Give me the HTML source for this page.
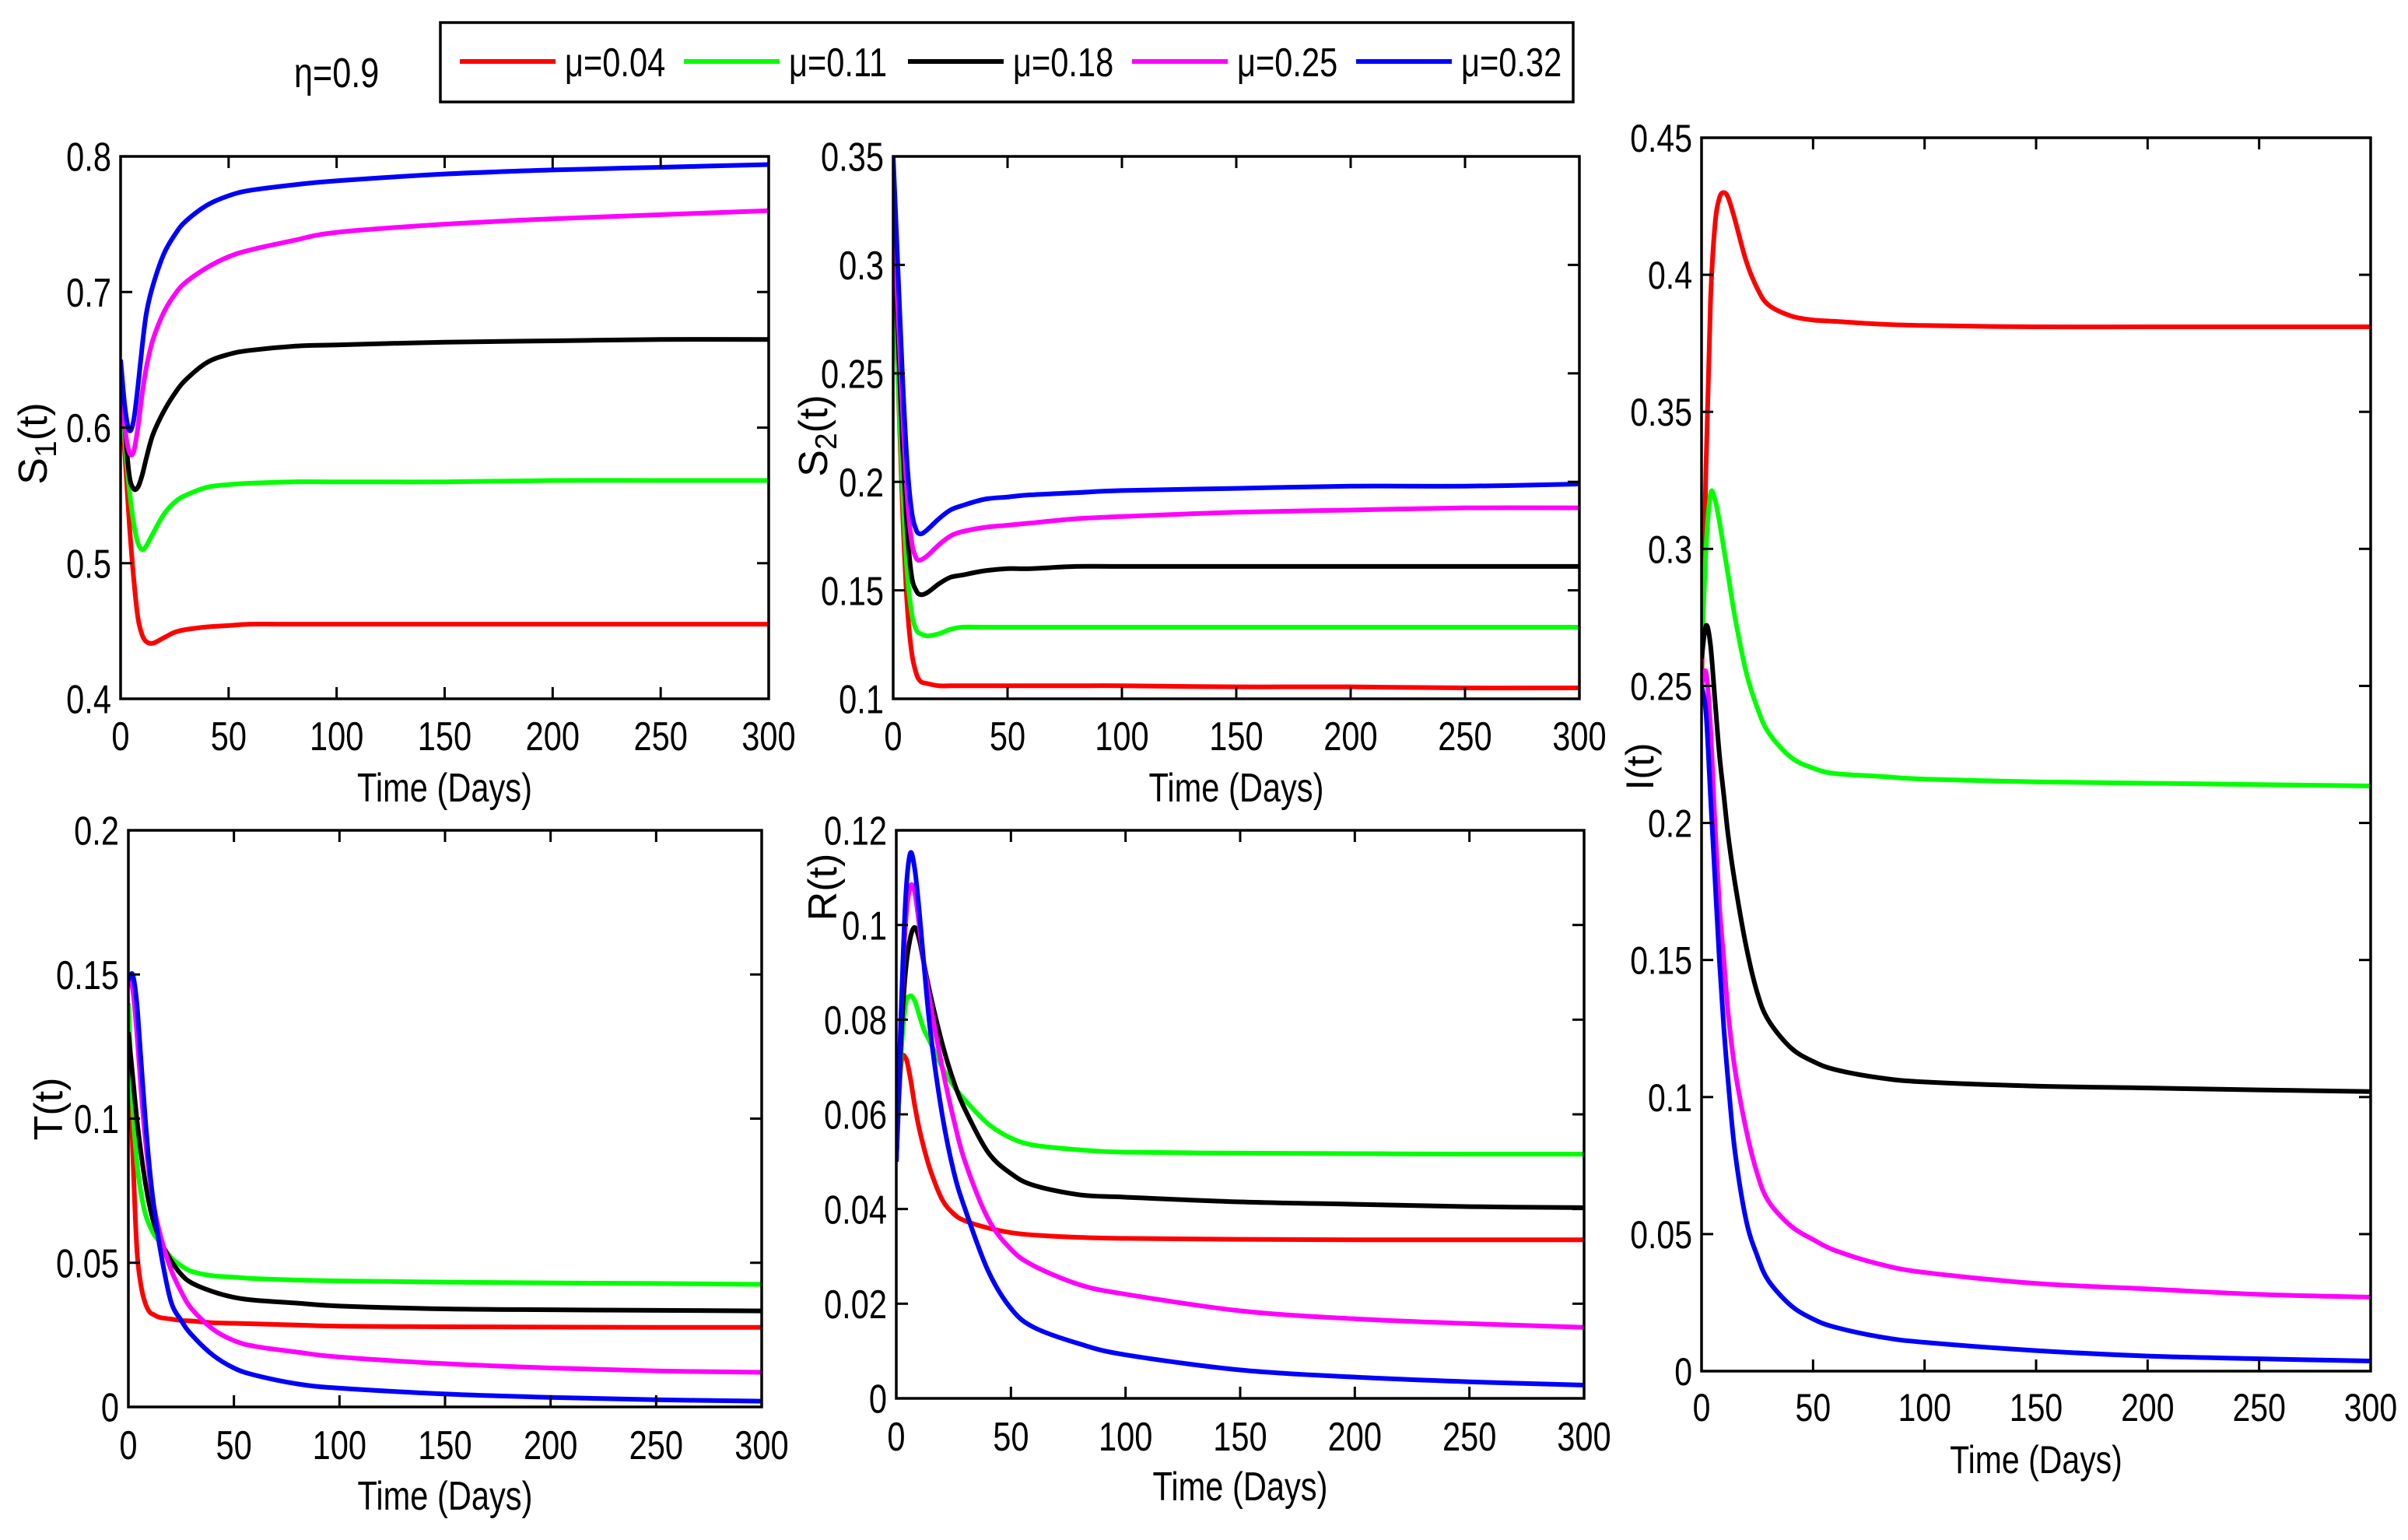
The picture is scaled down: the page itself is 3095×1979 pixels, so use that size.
<!DOCTYPE html>
<html><head><meta charset="utf-8"><style>
html,body{margin:0;padding:0;background:#fff}
svg{display:block}
</style></head><body>
<svg id="fig" width="3095" height="1979" viewBox="0 0 3095 1979" xmlns="http://www.w3.org/2000/svg">
<rect x="0" y="0" width="3095" height="1979" fill="#fff"/>
<g id="root"></g>
</svg>
<script>
const times = [0,2,4,6,8,10,12,15,20,25,30,40,50,60,80,100,150,200,250,300];
const seriesLabels = ["μ=0.04","μ=0.11","μ=0.18","μ=0.25","μ=0.32"];
const seriesColors = ["#ff0000","#00ff00","#000000","#ff00ff","#0000ff"];

const s1Red =   [0.62,0.58,0.53,0.49,0.46,0.447,0.442,0.441,0.445,0.449,0.451,0.453,0.454,0.455,0.455,0.455,0.455,0.455,0.455,0.455];
const s1Green = [0.63,0.59,0.555,0.53,0.515,0.51,0.513,0.522,0.536,0.545,0.55,0.556,0.558,0.559,0.56,0.56,0.56,0.561,0.561,0.561];
const s1Black = [0.64,0.6,0.565,0.555,0.556,0.565,0.578,0.595,0.612,0.625,0.635,0.648,0.654,0.657,0.66,0.661,0.663,0.664,0.665,0.665];
const s1Mag =   [0.64,0.6,0.582,0.582,0.6,0.625,0.645,0.665,0.685,0.698,0.707,0.718,0.726,0.731,0.738,0.744,0.75,0.754,0.757,0.76];
const s1Blue =  [0.65,0.615,0.598,0.605,0.63,0.66,0.685,0.705,0.728,0.742,0.752,0.764,0.771,0.775,0.779,0.782,0.787,0.79,0.792,0.794];

const s2Red =   [0.32,0.25,0.19,0.145,0.122,0.112,0.108,0.107,0.106,0.106,0.106,0.106,0.106,0.106,0.106,0.106,0.1055,0.1055,0.105,0.105];
const s2Green = [0.3,0.25,0.2,0.16,0.14,0.132,0.13,0.129,0.13,0.132,0.133,0.133,0.133,0.133,0.133,0.133,0.133,0.133,0.133,0.133];
const s2Black = [0.32,0.27,0.22,0.18,0.157,0.15,0.148,0.149,0.153,0.156,0.157,0.159,0.16,0.16,0.161,0.161,0.161,0.161,0.161,0.161];
const s2Mag =   [0.33,0.28,0.235,0.195,0.173,0.165,0.164,0.166,0.171,0.175,0.177,0.179,0.18,0.181,0.183,0.184,0.186,0.187,0.188,0.188];
const s2Blue =  [0.35,0.3,0.25,0.21,0.187,0.178,0.176,0.178,0.183,0.187,0.189,0.192,0.193,0.194,0.195,0.196,0.197,0.198,0.198,0.199];

const tRed =   [0.135,0.09,0.055,0.042,0.036,0.033,0.032,0.031,0.0305,0.03,0.0298,0.0292,0.029,0.0288,0.0284,0.028,0.0278,0.0277,0.0276,0.0276];
const tGreen = [0.14,0.105,0.085,0.074,0.067,0.063,0.06,0.057,0.052,0.049,0.047,0.0455,0.045,0.0445,0.044,0.0437,0.0433,0.043,0.0428,0.0425];
const tBlack = [0.13,0.115,0.1,0.088,0.078,0.07,0.064,0.058,0.051,0.046,0.043,0.04,0.038,0.037,0.036,0.035,0.034,0.0337,0.0335,0.0333];
const tMag =   [0.148,0.145,0.13,0.11,0.093,0.08,0.07,0.06,0.048,0.04,0.034,0.027,0.023,0.021,0.019,0.0173,0.015,0.0135,0.0125,0.012];
const tBlue =  [0.148,0.15,0.14,0.12,0.1,0.083,0.07,0.055,0.037,0.03,0.025,0.018,0.0135,0.011,0.008,0.0065,0.0045,0.0033,0.0025,0.002];

const rRed =   [0.05,0.07,0.072,0.068,0.062,0.057,0.053,0.048,0.042,0.039,0.0375,0.036,0.035,0.0345,0.034,0.0338,0.0336,0.0335,0.0335,0.0335];
const rGreen = [0.05,0.072,0.083,0.085,0.084,0.081,0.078,0.075,0.07,0.066,0.063,0.058,0.055,0.0535,0.0525,0.052,0.0518,0.0517,0.0516,0.0516];
const rBlack = [0.05,0.075,0.09,0.097,0.0995,0.097,0.092,0.085,0.075,0.067,0.061,0.052,0.0475,0.045,0.043,0.0425,0.0415,0.041,0.0405,0.0403];
const rMag =   [0.05,0.08,0.1,0.108,0.107,0.1,0.092,0.083,0.07,0.059,0.05,0.038,0.0315,0.028,0.024,0.022,0.0185,0.0168,0.0158,0.015];
const rBlue =  [0.05,0.08,0.105,0.115,0.112,0.103,0.092,0.077,0.06,0.048,0.04,0.027,0.019,0.015,0.0115,0.0092,0.006,0.0045,0.0035,0.0028];

const iRed =   [0.25,0.33,0.39,0.418,0.428,0.43,0.428,0.42,0.405,0.395,0.389,0.385,0.3835,0.383,0.382,0.3815,0.381,0.381,0.381,0.381];
const iGreen = [0.26,0.3,0.32,0.318,0.31,0.3,0.29,0.275,0.255,0.242,0.233,0.224,0.22,0.218,0.217,0.216,0.215,0.2145,0.214,0.2135];
const iBlack = [0.26,0.272,0.265,0.245,0.225,0.21,0.195,0.178,0.155,0.138,0.128,0.118,0.113,0.11,0.107,0.1055,0.104,0.1033,0.1026,0.102];
const iMag =   [0.25,0.255,0.235,0.2,0.17,0.15,0.13,0.11,0.088,0.072,0.062,0.053,0.048,0.044,0.039,0.036,0.032,0.03,0.028,0.027];
const iBlue =  [0.25,0.24,0.21,0.18,0.15,0.125,0.105,0.08,0.055,0.042,0.033,0.024,0.019,0.016,0.0125,0.0105,0.0075,0.0055,0.0045,0.0037];

const xTicks = [0,50,100,150,200,250,300];
const s1Ticks = [0.4,0.5,0.6,0.7,0.8];
const s2Ticks = [0.1,0.15,0.2,0.25,0.3,0.35];
const tTicks = [0,0.05,0.1,0.15,0.2];
const rTicks = [0,0.02,0.04,0.06,0.08,0.1,0.12];
const iTicks = [0,0.05,0.1,0.15,0.2,0.25,0.3,0.35,0.4,0.45];

const NS = "http://www.w3.org/2000/svg";
const root = document.getElementById('root');
function mk(tag, attrs, parent){
  const e = document.createElementNS(NS, tag);
  for (const k in attrs) e.setAttribute(k, attrs[k]);
  (parent||root).appendChild(e);
  return e;
}
function txt(parent, x, y, s, size, anchor, sx, rot){
  const g = mk('g', {transform: `translate(${x},${y})` + (rot?` rotate(${rot})`:'') + ` scale(${sx},1)`}, parent);
  const t = mk('text', {x:0, y:0, 'font-family':'"Liberation Sans", sans-serif', 'font-size':size, 'text-anchor':anchor, fill:'#000'}, g);
  t.textContent = s;
  return t;
}
function fmt(v){ return String(+v.toFixed(3)); }

function panel(cfg){
  const {name, L, R, T, B, ymin, ymax, yTicks, series, sx, fs, ylab, ylabX, ylabY, tickLabY, titleY} = cfg;
  const g = mk('g', {});
  
  
  const xs = v => L + (v - 0) / 300 * (R - L);
  const ys = v => B - (v - ymin) / (ymax - ymin) * (B - T);
  const clip = mk('clipPath', {id: 'clip-' + name}, g);
  mk('rect', {x: L, y: T - 4, width: R - L, height: B - T + 8}, clip);
  const sg = mk('g', {'clip-path': `url(#clip-${name})`}, g);
  series.forEach((vals, si) => {
    const pts = times.map((t, i) => [xs(t), ys(vals[i])]);
    let d = `M${pts[0][0]},${pts[0][1]}`;
    for (let i = 0; i < pts.length - 1; i++) {
      const p0 = pts[Math.max(0, i-1)], p1 = pts[i], p2 = pts[i+1], p3 = pts[Math.min(pts.length-1, i+2)];
      const c1x = p1[0] + (p2[0]-p0[0])/6, c1y = p1[1] + (p2[1]-p0[1])/6;
      const c2x = p2[0] - (p3[0]-p1[0])/6, c2y = p2[1] - (p3[1]-p1[1])/6;
      d += ` C${c1x},${c1y} ${c2x},${c2y} ${p2[0]},${p2[1]}`;
    }
    const p = mk('path', {d, fill:'none', stroke: seriesColors[si], 'stroke-width': 6, 'stroke-linejoin':'round'}, sg);
    
    
  });
  const box = mk('rect', {x:L, y:T, width:R-L, height:B-T, fill:'none', stroke:'#000', 'stroke-width':3.5}, g);
  
  
  const tl = 15;
  xTicks.forEach(v => {
    const x = xs(v);
    mk('line', {x1:x, y1:B, x2:x, y2:B-tl, stroke:'#000', 'stroke-width':3}, g);
    mk('line', {x1:x, y1:T, x2:x, y2:T+tl, stroke:'#000', 'stroke-width':3}, g);
    const t = txt(g, x, tickLabY, String(v), fs, 'middle', sx);
    
    
  });
  yTicks.forEach(v => {
    const y = ys(v);
    mk('line', {x1:L, y1:y, x2:L+tl, y2:y, stroke:'#000', 'stroke-width':3}, g);
    mk('line', {x1:R, y1:y, x2:R-tl, y2:y, stroke:'#000', 'stroke-width':3}, g);
    const t = txt(g, L - 12, y + fs*0.36, fmt(v), fs, 'end', sx);
    
    
  });
  const xt = txt(g, (L+R)/2, titleY, 'Time (Days)', fs, 'middle', sx);
  
  
  const yg = mk('g', {transform:`translate(${ylabX},${ylabY}) rotate(-90)`}, g);
  
  
  const yt = mk('text', {x:0, y:0, 'font-family':'"Liberation Sans", sans-serif', 'font-size':fs, 'text-anchor':'middle', fill:'#000'}, yg);
  if (ylab.sub) {
    const a = mk('tspan', {}, yt); a.textContent = ylab.main;
    const b = mk('tspan', {'font-size': fs*0.75, dy: 12}, yt); b.textContent = ylab.sub;
    const c = mk('tspan', {dy: -12}, yt); c.textContent = ylab.rest;
  } else yt.textContent = ylab.main;
}

panel({name:'s1', L:155, R:988, T:201, B:898, ymin:0.4, ymax:0.8, yTicks:s1Ticks,
  series:[s1Red,s1Green,s1Black,s1Mag,s1Blue], sx:0.8, fs:52, ylab:{main:'S',sub:'1',rest:'(t)'},
  ylabX:60, ylabY:570, tickLabY:964, titleY:1030});
panel({name:'s2', L:1148, R:2030, T:201, B:898, ymin:0.1, ymax:0.35, yTicks:s2Ticks,
  series:[s2Red,s2Green,s2Black,s2Mag,s2Blue], sx:0.8, fs:52, ylab:{main:'S',sub:'2',rest:'(t)'},
  ylabX:1063, ylabY:560, tickLabY:964, titleY:1030});
panel({name:'t', L:165, R:979, T:1067, B:1808, ymin:0, ymax:0.2, yTicks:tTicks,
  series:[tRed,tGreen,tBlack,tMag,tBlue], sx:0.8, fs:52, ylab:{main:'T(t)'},
  ylabX:80, ylabY:1425, tickLabY:1875, titleY:1940});
panel({name:'r', L:1152, R:2036, T:1067, B:1797, ymin:0, ymax:0.12, yTicks:rTicks,
  series:[rRed,rGreen,rBlack,rMag,rBlue], sx:0.8, fs:52, ylab:{main:'R(t)'},
  ylabX:1075, ylabY:1140, tickLabY:1864, titleY:1928});
panel({name:'i', L:2187, R:3047, T:177, B:1762, ymin:0, ymax:0.45, yTicks:iTicks,
  series:[iRed,iGreen,iBlack,iMag,iBlue], sx:0.82, fs:50, ylab:{main:'I(t)'},
  ylabX:2125, ylabY:985, tickLabY:1826, titleY:1893});

const lg = mk('g', {});


mk('rect', {x:566, y:29, width:1456, height:102, fill:'#fff', stroke:'#000', 'stroke-width':3.5}, lg);
const legX = [591, 879, 1167, 1455, 1743];
seriesLabels.forEach((s, i) => {
  const e = mk('g', {}, lg);
  
  
  mk('line', {x1:legX[i], y1:79, x2:legX[i]+123, y2:79, stroke:seriesColors[i], 'stroke-width':6}, e);
  txt(e, legX[i]+135, 98, s, 52, 'start', 0.8);
});
const eta = txt(root, 378, 112, 'η=0.9', 54, 'start', 0.8);


</script>
</body></html>
